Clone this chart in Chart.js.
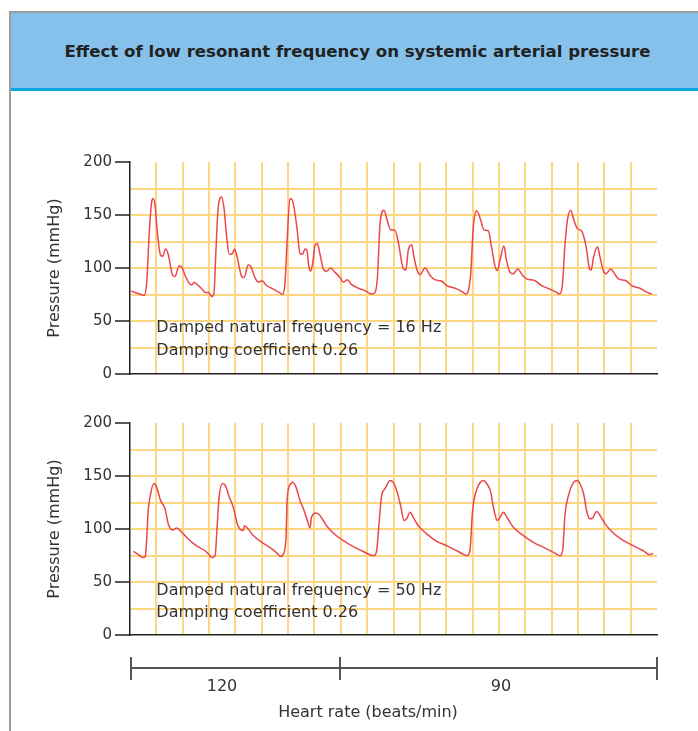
<!DOCTYPE html>
<html>
<head>
<meta charset="utf-8">
<script src="https://cdn.jsdelivr.net/npm/chart.js@4.4.0/dist/chart.umd.min.js"></script>
<style>
    html, body { margin: 0; padding: 0; background: #fff; }
    body { width: 698px; height: 731px; position: relative; overflow: hidden; font-family: "DejaVu Sans", sans-serif; color: #333; }
    #frame { position: absolute; left: 9px; top: 11px; width: 700px; height: 730px; border-left: 2px solid #9b9b9b; border-top: 2px solid #9b9b9b; }
    #banner { position: absolute; left: 11px; top: 13px; width: 687px; height: 75px; background: #85c1ea; border-bottom: 3px solid #0aa6df; }
    #banner h1 { position: absolute; left: 6px; right: 0; top: 29px; margin: 0; line-height: 20px; font-size: 16.6px; font-weight: bold; color: #222; text-align: center; }
    .plot { position: absolute; left: 0; width: 698px; height: 260px; }
    #rate { position: absolute; left: 0; top: 0; width: 698px; height: 731px; pointer-events: none; }
    .hline { position: absolute; left: 131px; top: 667px; width: 527px; height: 2px; background: #555; }
    .vtick { position: absolute; top: 657px; width: 2px; height: 23px; background: #555; }
    .rlab { position: absolute; font-size: 16px; color: #333; transform: translate(-50%, -50%); white-space: nowrap; }
</style>
</head>
<body>
<div id="frame"></div>
<div id="banner"><h1>Effect of low resonant frequency on systemic arterial pressure</h1></div>
<canvas id="topChart" class="plot" style="top:130px"></canvas>
<canvas id="bottomChart" class="plot" style="top:391px"></canvas>
<div id="rate">
    <div class="hline"></div>
    <div class="vtick" style="left:130px"></div>
    <div class="vtick" style="left:339px"></div>
    <div class="vtick" style="left:656px"></div>
    <div class="rlab" id="rate1" style="left:222px; top:685px"></div>
    <div class="rlab" id="rate2" style="left:501px; top:685px"></div>
    <div class="rlab" id="rateTitle" style="left:368px; top:711px"></div>
</div>
<script>
// x = time in grid squares, y = pressure (mmHg)
const topTime = [0.05, 0.38, 0.53, 0.63, 0.73, 0.82, 0.88, 0.95, 1.04, 1.16, 1.24, 1.35, 1.45, 1.62, 1.71, 1.86, 1.96, 2.11, 2.25, 2.34, 2.44, 2.55, 2.74, 2.85, 2.97, 3.11, 3.19, 3.25, 3.35, 3.48, 3.57, 3.67, 3.77, 3.87, 3.97, 4.07, 4.24, 4.33, 4.49, 4.59, 4.74, 4.87, 5.02, 5.16, 5.44, 5.72, 5.79, 5.88, 5.97, 6.07, 6.16, 6.33, 6.45, 6.55, 6.64, 6.71, 6.79, 6.86, 6.93, 7.02, 7.11, 7.21, 7.34, 7.46, 7.62, 7.74, 7.97, 8.1, 8.25, 8.38, 8.66, 8.92, 9.17, 9.3, 9.39, 9.49, 9.64, 9.76, 9.89, 10.06, 10.18, 10.35, 10.47, 10.56, 10.69, 10.78, 10.9, 11.0, 11.2, 11.39, 11.57, 11.83, 12.02, 12.33, 12.55, 12.75, 12.84, 12.93, 13.03, 13.16, 13.31, 13.43, 13.6, 13.72, 13.85, 13.94, 14.04, 14.19, 14.29, 14.42, 14.55, 14.71, 14.9, 15.05, 15.37, 15.62, 15.94, 16.19, 16.29, 16.4, 16.51, 16.6, 16.72, 16.85, 16.98, 17.14, 17.31, 17.43, 17.5, 17.59, 17.74, 17.84, 17.96, 18.06, 18.24, 18.41, 18.53, 18.82, 19.04, 19.35, 19.63, 19.8];
const topPressure = [78, 75.5, 74, 85, 133, 162, 165.5, 159, 133, 112, 111, 118, 113, 93, 92, 102, 101, 92, 85.6, 84, 86.6, 84.4, 80, 77, 77, 73, 77, 110, 158, 167, 156, 129, 113, 113, 118, 110, 92, 91, 103, 101, 91, 86.6, 88, 84, 80, 76, 75, 85, 129, 165.5, 164, 139, 114, 113, 118, 117, 101, 97, 104, 121, 123, 113, 99, 97, 100, 97, 91, 86.6, 89, 85, 81, 78.7, 75.5, 77, 91, 142, 154.5, 145, 136, 135.5, 124.5, 101, 98, 116.6, 122, 110, 97.6, 93.8, 100, 93, 89, 87.5, 83.4, 81, 78.5, 75.5, 78.7, 94.5, 139, 154, 145, 136, 135, 120, 102, 97.6, 107, 120.7, 107, 96, 94.5, 99, 93, 89.8, 88, 83.4, 80, 77, 75.5, 81.8, 123, 145, 154.5, 145, 137, 135, 120, 100, 98, 110, 120, 110, 97.6, 94.5, 99, 93.8, 89.8, 88, 83.4, 80.9, 77, 75.5];

const bottomTime = [0.13, 0.32, 0.5, 0.58, 0.63, 0.69, 0.78, 0.91, 1.01, 1.16, 1.33, 1.45, 1.62, 1.77, 1.96, 2.21, 2.53, 2.85, 3.01, 3.1, 3.23, 3.29, 3.38, 3.52, 3.62, 3.77, 3.92, 4.07, 4.17, 4.3, 4.34, 4.43, 4.68, 5.0, 5.31, 5.59, 5.72, 5.82, 5.92, 5.97, 6.1, 6.17, 6.3, 6.45, 6.6, 6.73, 6.83, 6.89, 7.06, 7.21, 7.46, 7.72, 8.1, 8.48, 8.79, 9.1, 9.26, 9.36, 9.46, 9.55, 9.68, 9.87, 9.99, 10.14, 10.27, 10.4, 10.5, 10.63, 10.75, 10.94, 11.26, 11.64, 12.02, 12.4, 12.68, 12.8, 12.9, 13.0, 13.09, 13.22, 13.41, 13.54, 13.69, 13.79, 13.94, 14.04, 14.17, 14.29, 14.55, 14.93, 15.31, 15.75, 16.07, 16.32, 16.42, 16.51, 16.64, 16.8, 16.95, 17.08, 17.23, 17.33, 17.46, 17.56, 17.71, 17.84, 18.03, 18.35, 18.73, 19.1, 19.48, 19.71, 19.86];
const bottomPressure = [79, 75.8, 73, 74, 89, 117, 133, 143, 139.5, 127, 119, 105, 99, 101, 97, 90.6, 84, 79.5, 75.5, 73, 74.8, 95, 130, 143, 141, 130, 120.5, 105, 100, 98.5, 103, 101.6, 93.8, 87.4, 82.7, 77, 74, 76.4, 92, 130, 142.7, 144, 139.5, 127, 118, 108, 101, 111, 115, 112.7, 103, 96, 89, 83.3, 79.5, 75.8, 74.8, 79.5, 108, 131.6, 138, 145.8, 144, 134.8, 122, 108, 109.6, 115.8, 111, 103, 95.4, 88.4, 84.3, 79.5, 75.8, 74.8, 79.5, 117, 131.6, 141, 145.8, 142.7, 134.8, 120.5, 108, 111, 115.8, 111.7, 101.6, 93.8, 87.4, 82, 78, 74.8, 79.5, 114, 131.6, 142.7, 145.8, 142.7, 131.6, 117, 109.6, 110.5, 116.5, 112.7, 104.8, 96, 89, 84.3, 79.5, 75.8, 77];

const yTickLabels = [0, 50, 100, 150, 200];
const topNotes = ['Damped natural frequency = 16 Hz', 'Damping coefficient 0.26'];
const bottomNotes = ['Damped natural frequency = 50 Hz', 'Damping coefficient 0.26'];
const heartRates = ['120', '90'];
const heartRateTitle = 'Heart rate (beats/min)';

const gridYellow = '#fdd682';
const traceRed = '#e9474c';
const inkColor = '#333';

document.getElementById('rate1').textContent = heartRates[0];
document.getElementById('rate2').textContent = heartRates[1];
document.getElementById('rateTitle').textContent = heartRateTitle;

// text inside the plot, placed with the chart's own scales
const notesPlugin = {
    id: 'notes',
    afterDatasetsDraw(chart, args, opts) {
        const ctx = chart.ctx;
        const xs = chart.scales.x;
        const ys = chart.scales.y;
        ctx.save();
        ctx.font = '16px "DejaVu Sans"';
        ctx.fillStyle = inkColor;
        ctx.textBaseline = 'middle';
        opts.lines.forEach(function (t, i) {
            ctx.fillText(t, xs.getPixelForValue(opts.x), ys.getPixelForValue(opts.y[i]));
        });
        ctx.restore();
    }
};

function makeChart(id, times, values, notes, noteY) {
    const ctx = document.getElementById(id).getContext('2d');
    return new Chart(ctx, {
        type: 'line',
        data: {
            datasets: [{
                data: times.map((t, i) => ({x: t, y: values[i]})),
                borderColor: traceRed,
                borderWidth: 1.5,
                pointRadius: 0,
                cubicInterpolationMode: 'monotone',
                fill: false
            }]
        },
        options: {
            responsive: false,
            animation: false,
            events: [],
            layout: {
                padding: {left: 45, right: 41, top: 32, bottom: 16}
            },
            plugins: {
                legend: {display: false},
                tooltip: {enabled: false},
                notes: {lines: notes, x: 1, y: noteY}
            },
            scales: {
                x: {
                    type: 'linear',
                    min: 0,
                    max: 20,
                    afterFit: s => { s.height = 0; },
                    ticks: {display: false, stepSize: 1},
                    grid: {
                        drawTicks: false,
                        lineWidth: 2,
                        color: c => (c.tick && c.tick.value > 0 && c.tick.value < 20) ? gridYellow : 'rgba(0,0,0,0)'
                    },
                    border: {display: true, color: '#222', width: 1.5}
                },
                y: {
                    min: 0,
                    max: 200,
                    afterFit: s => { s.width = 85; },
                    ticks: {
                        stepSize: 25,
                        padding: 3,
                        color: inkColor,
                        font: {family: 'DejaVu Sans', size: 15},
                        callback: v => yTickLabels.includes(v) ? String(v) : ''
                    },
                    grid: {
                        tickLength: 15,
                        tickWidth: 1.5,
                        lineWidth: 2,
                        tickColor: c => yTickLabels.includes(c.tick.value) ? '#222' : 'rgba(0,0,0,0)',
                        color: c => (c.tick && c.tick.value > 0 && c.tick.value < 200) ? gridYellow : 'rgba(0,0,0,0)'
                    },
                    border: {display: true, color: '#222', width: 1.5},
                    title: {
                        display: true,
                        text: 'Pressure (mmHg)',
                        color: inkColor,
                        font: {family: 'DejaVu Sans', size: 16},
                        padding: {top: 0, bottom: 0}
                    }
                }
            }
        },
        plugins: [notesPlugin]
    });
}

document.getElementById('topChart').width = 698;
document.getElementById('topChart').height = 260;
document.getElementById('bottomChart').width = 698;
document.getElementById('bottomChart').height = 260;

makeChart('topChart', topTime, topPressure, topNotes, [43.8, 21.8]);
makeChart('bottomChart', bottomTime, bottomPressure, bottomNotes, [42, 21.1]);
</script>
</body>
</html>
